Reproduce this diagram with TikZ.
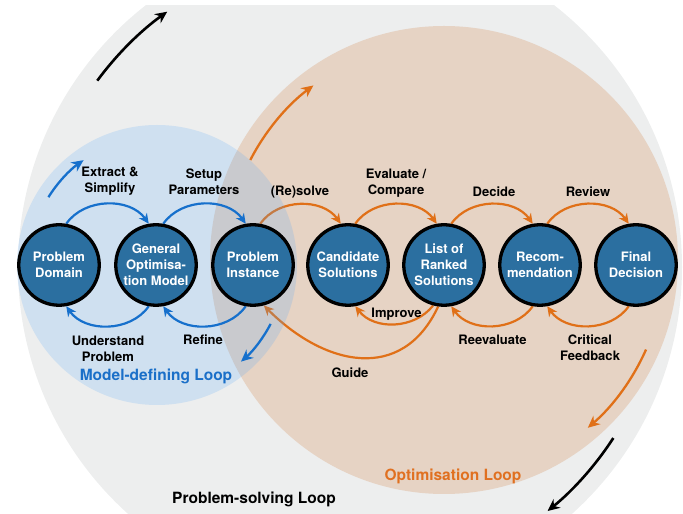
\documentclass[tikz,border=0pt]{standalone}
\usepackage{fontspec}
\setmainfont{TeX Gyre Heros}
\usetikzlibrary{arrows.meta}
\definecolor{graybg}{HTML}{EDEEEE}
\definecolor{tanbg}{HTML}{E6D3C4}
\definecolor{bluefill}{RGB}{87,168,248}
\definecolor{nodeblue}{HTML}{2B6FA0}
\definecolor{arrblue}{HTML}{1670CC}
\definecolor{arrorange}{HTML}{E07018}
\definecolor{txtblue}{HTML}{1A6FC8}
\definecolor{txtorange}{HTML}{E07020}
\pgfdeclarelayer{bglayer}
\pgfdeclarelayer{orangelayer}
\pgfdeclarelayer{bluelayer}
\pgfsetlayers{bglayer,orangelayer,bluelayer,main}
\begin{document}
\begin{tikzpicture}[x=1pt,y=1pt,
  proc/.style={circle, draw=black, line width=3.3pt, fill=nodeblue, minimum size=80.5pt,
    inner sep=0pt, text=white, align=center, font=\fontsize{13}{16}\selectfont\bfseries},
  lbl/.style={align=center, font=\fontsize{13}{16}\selectfont\bfseries, text=black, inner sep=0pt},
  looplbl/.style={font=\fontsize{15.5}{18}\selectfont\bfseries, inner sep=0pt},
  conn/.style={line width=2.2pt, -{Stealth[length=10pt,width=9.5pt]}},
  bconn/.style={conn, draw=arrblue},
  oconn/.style={conn, draw=arrorange},
  bigarrow/.style={line width=2.6pt, -{Stealth[length=12pt,width=11pt]}},
]
\useasboundingbox (0,0) rectangle (683,514);
\coordinate (gc) at (350,247);
\coordinate (tc) at (444,254);
\coordinate (bc) at (157,249);

% nodes
\node[proc] (pd)  at (59,249)  {Problem\\Domain};
\node[proc] (gom) at (156,249) {General\\Optimisa-\\tion Model};
\node[proc] (pi)  at (253,249) {Problem\\Instance};
\node[proc] (cs)  at (348,249) {Candidate\\Solutions};
\node[proc] (lrs) at (444,249) {List of\\Ranked\\Solutions};
\node[proc] (rec) at (540,249) {Recom-\\mendation};
\node[proc] (fd)  at (636,249) {Final\\Decision};

% labels
\node[lbl] (l1) at (110,332.5) {Extract \&\\Simplify};
\node[lbl] (l2) at (204,332.5) {Setup\\Parameters};
\node[lbl] (l3) at (108,165.5) {Understand\\Problem};
\node[lbl] (l4) at (203,174) {Refine};
\node[lbl] (l5) at (300,322) {(Re)solve};
\node[lbl] (l6) at (396,330.7) {Evaluate /\\Compare};
\node[lbl] (l7) at (494,322) {Decide};
\node[lbl] (l8) at (588,322) {Review};
\node[lbl] (l9) at (396.5,200) {Improve};
\node[lbl] (l10) at (492.5,174) {Reevaluate};
\node[lbl] (l11) at (590,166) {Critical\\Feedback};
\node[lbl] (l12) at (350,141.3) {Guide};
\node[looplbl, text=txtblue] (t1) at (156,138) {Model-defining Loop};
\node[looplbl, text=txtorange] (t2) at (453,38) {Optimisation Loop};
\node[looplbl, text=black] (t3) at (254,15) {Problem-solving Loop};

\begin{pgfonlayer}{bglayer}
  \begin{scope}
    \clip (0,0) rectangle (683,508);
    \fill[graybg] (gc) circle[radius=332pt];
  \end{scope}
  \fill[tanbg] (tc) circle[radius=234pt];
  \draw[bigarrow, draw=black] ([shift={(143.6:314)}]gc) arc[start angle=143.6, end angle=125.6, radius=314pt];
  \draw[bigarrow, draw=black] ([shift={(-33:314)}]gc) arc[start angle=-33, end angle=-51, radius=314pt];
  \draw[bigarrow, draw=arrorange, line width=2.3pt] ([shift={(152.7:218)}]tc) arc[start angle=152.7, end angle=126.8, radius=218pt];
  \draw[bigarrow, draw=arrorange, line width=2.3pt] ([shift={(-23.9:221)}]tc) arc[start angle=-23.9, end angle=-49.4, radius=221pt];
\end{pgfonlayer}

\begin{pgfonlayer}{orangelayer}
  \draw[oconn] (pi.80) to[out=55,in=125] (cs.100);
  \draw[oconn] (cs.80) to[out=55,in=125] (lrs.100);
  \draw[oconn] (lrs.80) to[out=55,in=125] (rec.100);
  \draw[oconn] (rec.80) to[out=55,in=125] (fd.100);
  \draw[oconn] (lrs.255) to[out=-128,in=-52] (cs.280);
  \draw[oconn] (lrs.262) to[out=-115,in=-45,looseness=1.25] (pi.285);
  \draw[oconn] (rec.260) to[out=-125,in=-55] (lrs.280);
  \draw[oconn] (fd.260) to[out=-125,in=-55] (rec.280);
\end{pgfonlayer}

\begin{pgfonlayer}{bluelayer}
  \fill[bluefill, fill opacity=0.2] (bc) circle[radius=140pt];
  \draw[bconn] (pd.80) to[out=55,in=125] (gom.100);
  \draw[bconn] (gom.80) to[out=55,in=125] (pi.100);
  \draw[bconn] (gom.260) to[out=-125,in=-55] (pd.280);
  \draw[bconn] (pi.260) to[out=-125,in=-55] (gom.280);
  \draw[bigarrow, draw=arrblue, line width=2.3pt] ([shift={(148:128)}]bc) arc[start angle=148, end angle=125, radius=128pt];
  \draw[bigarrow, draw=arrblue, line width=2.3pt] ([shift={(-27.4:128)}]bc) arc[start angle=-27.4, end angle=-49, radius=128pt];
\end{pgfonlayer}
\end{tikzpicture}
\end{document}
